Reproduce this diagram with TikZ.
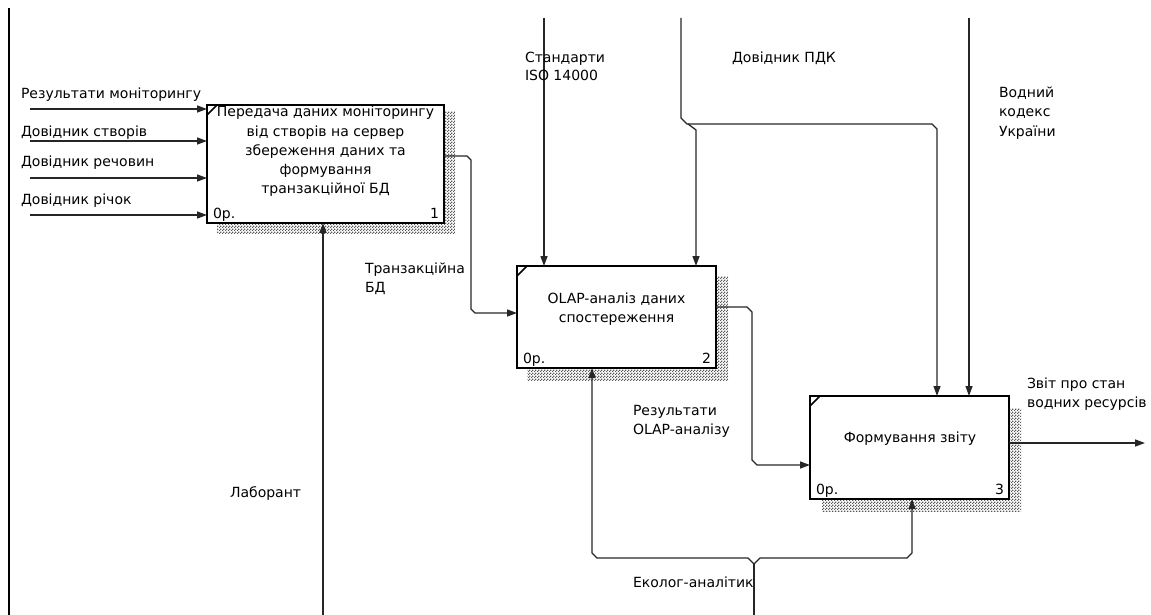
\documentclass[tikz,border=0pt]{standalone}
\usepackage{fontspec}
\setmainfont{DejaVu Sans}
\usetikzlibrary{arrows.meta,patterns,calc}
\pgfdeclarepatternformonly{checkerfine}{\pgfqpoint{0pt}{0pt}}{\pgfqpoint{3pt}{3pt}}{\pgfqpoint{3pt}{3pt}}{%
  \pgfpathrectangle{\pgfqpoint{0pt}{0pt}}{\pgfqpoint{1.5pt}{1.5pt}}%
  \pgfpathrectangle{\pgfqpoint{1.5pt}{1.5pt}}{\pgfqpoint{1.5pt}{1.5pt}}%
  \pgfusepath{fill}}
\begin{document}
\begin{tikzpicture}[x=1pt,y=-1pt,
  every node/.style={inner sep=0pt,outer sep=0pt,font=\fontsize{14}{19}\selectfont},
  box/.style={draw=black,line width=2.8pt,fill=white},
  shade/.style={pattern=checkerfine,pattern color=black!65},
  conn/.style={line width=1.3pt,draw=black!85},
  arr/.style={conn,-{Triangle[length=10pt,width=7pt]}},
  corner/.style={line width=1.6pt},
  lbl/.style={anchor=base west},
  ctr/.style={anchor=base},
  num/.style={anchor=base east},
]
\useasboundingbox (0,0) rectangle (1151,615);
% frame line
\draw[line width=2pt] (9,8) -- (9,615);
% shadows
\fill[shade] (217,112) rectangle (455,233);
\fill[shade] (527,276) rectangle (728,380);
\fill[shade] (822,408) rectangle (1021,511);
% boxes
\node[box,minimum width=237pt,minimum height=118pt] (b1) at (325.5,164) {};
\node[box,minimum width=199pt,minimum height=102pt] (b2) at (616.5,317) {};
\node[box,minimum width=199pt,minimum height=103pt] (b3) at (909.5,447.5) {};
\draw[corner] ($(b1.north west)+(0,10)$) -- ($(b1.north west)+(10,0)$);
\draw[corner] ($(b2.north west)+(0,10)$) -- ($(b2.north west)+(10,0)$);
\draw[corner] ($(b3.north west)+(0,10)$) -- ($(b3.north west)+(10,0)$);
% box texts
\node[ctr] (t11) at (325.5,117) {Передача даних моніторингу};
\node[ctr] (t12) at (325.5,136) {від створів на сервер};
\node[ctr] (t13) at (325.5,155) {збереження даних та};
\node[ctr] (t14) at (325.5,174) {формування};
\node[ctr] (t15) at (325.5,193) {транзакційної БД};
\node[ctr] (t21) at (616.5,303) {OLAP-аналіз даних};
\node[ctr] (t22) at (616.5,322) {спостереження};
\node[ctr] (t31) at (910,442) {Формування звіту};
\node[lbl] (n1a) at ($(b1.south west)+(6,-5)$) {0р.};
\node[num] (n1b) at ($(b1.south east)+(-5,-5)$) {1};
\node[lbl] (n2a) at ($(b2.south west)+(6,-5)$) {0р.};
\node[num] (n2b) at ($(b2.south east)+(-5,-5)$) {2};
\node[lbl] (n3a) at ($(b3.south west)+(6,-5)$) {0р.};
\node[num] (n3b) at ($(b3.south east)+(-5,-5)$) {3};
% inputs of box 1
\coordinate (i1) at (30,109);
\coordinate (i2) at (30,141);
\coordinate (i3) at (30,178);
\coordinate (i4) at (30,215);
\draw[arr] (i1) -- (b1.west |- i1);
\draw[arr] (i2) -- (b1.west |- i2);
\draw[arr] (i3) -- (b1.west |- i3);
\draw[arr] (i4) -- (b1.west |- i4);
\node[lbl] (l1) at (21,99) {Результати моніторингу};
\node[lbl] (l2) at (21,137) {Довідник створів};
\node[lbl] (l3) at (21,167) {Довідник речовин};
\node[lbl] (l4) at (21,204) {Довідник річок};
% box1 -> box2
\draw[arr] (b1.east |- 0,156) -- (467,156) -- (471,160) -- (471,309) -- (475,313) -- (b2.west |- 0,313);
\node[lbl] (l5) at (365,273) {Транзакційна};
\node[lbl] (l6) at (365,292) {БД};
% controls
\coordinate (s0) at (544,18);
\draw[arr] (s0) -- (s0 |- b2.north);
\coordinate (p0) at (681,18);
\draw[arr] (p0) -- (681,118) -- (687,124) -- (932,124) -- (937,129) -- (937,0 |- b3.north);
\draw[arr] (688,124) -- (696,130) -- (696,0 |- b2.north);
\coordinate (v0) at (969,18);
\draw[arr] (v0) -- (v0 |- b3.north);
\node[lbl] (l7) at (525,63) {Стандарти};
\node[lbl] (l8) at (525,81) {ISO 14000};
\node[lbl] (l9) at (732,63) {Довідник ПДК};
\node[lbl] (l10) at (999,98) {Водний};
\node[lbl] (l11) at (999,117) {кодекс};
\node[lbl] (l12) at (999,136) {України};
% box2 -> box3
\draw[arr] (b2.east |- 0,307) -- (747,307) -- (752,312) -- (752,460) -- (757,465) -- (b3.west |- 0,465);
\node[lbl] (l13) at (633,415) {Результати};
\node[lbl] (l14) at (633,434) {OLAP-аналізу};
% output
\coordinate (out) at (1145,443);
\draw[arr] (b3.east |- out) -- (out);
\node[lbl] (l15) at (1027,388) {Звіт про стан};
\node[lbl] (l16) at (1027,407) {водних ресурсів};
% mechanisms
\coordinate (m1) at (323,615);
\draw[arr] (m1) -- (m1 |- b1.south);
\node[lbl] (l17) at (230,497) {Лаборант};
\coordinate (m2) at (754,615);
\coordinate (j2) at (754,564);
\draw[conn] (m2) -- (j2);
\draw[arr] (j2) -- (748,558) -- (597,558) -- (592,553) -- (592,0 |- b2.south);
\draw[arr] (j2) -- (760,558) -- (907,558) -- (912,553) -- (912,0 |- b3.south);
\node[lbl] (l18) at (633,587) {Еколог-аналітик};
\end{tikzpicture}
\end{document}
